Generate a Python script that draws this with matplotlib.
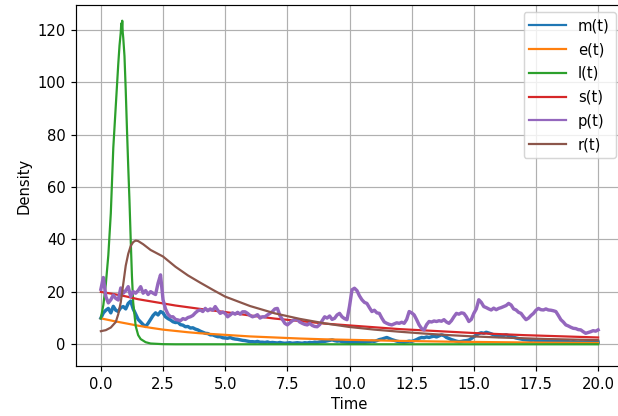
"""
Density of the six compartments m, e, l, s, p, r over time (0-20).
Values read off the reference picture.
"""
import numpy as np
import matplotlib
matplotlib.use("Agg")
import matplotlib.pyplot as plt

DPI = 106

# noisy series on a 0.1 grid, t = 0.0 .. 20.0
t_grid = np.linspace(0.0, 20.0, 201)

m_vals = [
    10.0, 12.0, 13.0, 13.7, 12.0, 14.5, 13.0, 12.5, 14.0, 14.4,
    13.5, 15.6, 16.5, 13.5, 11.5, 9.5, 8.5, 7.5, 6.8, 8.0,
    9.5, 11.0, 12.0, 11.2, 12.5, 12.0, 10.5, 9.8, 9.3, 8.6,
    8.3, 8.4, 7.5, 7.3, 6.7, 6.8, 6.2, 6.3, 5.8, 5.5,
    5.0, 4.6, 4.2, 4.1, 3.6, 3.6, 3.2, 2.9, 2.9, 2.5,
    2.4, 2.3, 2.6, 2.2, 2.0, 1.9, 1.7, 1.5, 1.4, 1.2,
    1.0,
    1.0, 0.9, 1.1, 0.8, 0.8, 0.7, 0.9, 0.6, 0.7, 0.6,
    0.5, 0.7, 0.5, 0.4, 0.5, 0.6, 0.4, 0.5, 0.6, 0.5,
    0.4, 0.6, 0.5, 0.7, 0.6, 0.8, 0.7, 0.9, 1.0, 1.1,
    1.3, 1.5, 1.7, 1.4, 1.2, 1.3, 1.0, 0.9, 0.8, 0.7,
    0.8, 0.6, 0.7, 0.6, 0.8, 0.7, 0.9, 1.0, 1.2, 1.1,
    1.4, 1.8, 2.0, 2.3, 2.6, 2.2, 1.8, 1.5, 1.2, 1.0,
    0.9, 0.8, 1.0, 1.2, 1.1, 1.4, 1.8, 2.3, 2.6, 2.5,
    2.8, 2.6, 2.9, 3.1, 2.8, 3.2, 3.6, 3.3, 2.6, 2.2,
    1.8, 1.5, 1.2, 1.0, 1.1, 1.3, 1.4, 1.6, 2.2, 2.9,
    3.5, 4.1, 4.4, 4.2, 4.6, 4.3, 4.0, 3.6, 3.2, 3.0,
    3.2, 3.4, 3.6, 3.3, 3.0, 2.7, 2.4, 2.2, 2.0, 1.8,
    1.7, 1.6, 1.5, 1.6, 1.4, 1.3, 1.2, 1.3, 1.2, 1.1,
    1.2, 1.3, 1.4, 1.2, 1.1, 1.0, 1.1, 1.0, 0.9, 1.0,
    0.9, 0.8, 0.9, 0.8, 0.9, 0.8, 0.7, 0.8, 0.7, 0.8,
]

p_vals = [
    21.0, 25.5, 18.2, 15.8, 17.0, 18.8, 17.5, 16.9, 21.5, 19.5,
    20.5, 22.0, 18.2, 20.1, 19.5, 20.5, 22.0, 19.5, 20.5, 19.0,
    20.1, 19.5, 19.0, 23.3, 26.5, 17.0, 13.5, 11.5, 10.5, 10.5,
    9.5, 9.3, 9.0, 9.8, 9.5, 10.2, 10.5, 11.0, 12.0, 12.8,
    13.1, 12.5, 13.7, 12.8, 13.5, 13.0, 14.4, 13.0, 11.8, 12.3,
    11.8, 10.5, 11.2, 12.0, 11.5, 12.2, 11.5, 12.4, 12.4, 11.8,
    11.0, 10.5, 10.8, 11.3, 10.0, 10.5, 10.5, 11.2, 11.8, 12.5,
    13.5, 13.7, 11.0, 9.5, 8.0, 7.4, 8.2, 9.0, 9.4, 9.4,
    8.5, 8.0, 7.6, 7.4, 8.0, 7.2, 6.8, 6.7, 7.5, 9.0,
    10.5, 10.0, 10.8, 9.5, 9.9, 11.2, 11.8, 10.5, 9.8, 9.4,
    14.5, 20.8, 21.4, 20.5, 18.5, 17.0, 16.0, 15.6, 14.0, 12.5,
    13.0, 12.0, 11.8, 10.0, 8.5, 8.0, 7.6, 7.4, 7.8, 8.2,
    8.0, 8.4, 8.0, 9.5, 12.5, 12.0, 11.2, 9.4, 7.4, 6.0,
    5.5, 7.5, 8.7, 8.5, 8.9, 8.7, 9.0, 8.8, 9.4, 8.5,
    8.0, 9.0, 10.5, 11.8, 11.5, 12.0, 11.8, 10.5, 8.7, 9.5,
    11.8, 13.5, 17.0, 16.0, 14.4, 14.0, 13.5, 13.1, 13.8, 13.2,
    13.7, 14.0, 14.4, 14.8, 15.6, 15.0, 13.5, 13.1, 12.2, 11.8,
    10.5, 9.4, 10.0, 11.0, 11.8, 13.0, 13.7, 13.2, 13.1, 13.5,
    13.1, 13.0, 12.8, 12.5, 11.0, 9.4, 8.5, 7.4, 7.0, 6.5,
    6.1, 6.0, 5.6, 5.5, 4.8, 4.2, 4.5, 4.8, 5.2, 5.0,
    5.5,
]

# smooth series at their own sample times
t_e = [0, 0.5, 1, 1.5, 2, 2.5, 3, 3.5, 4, 5, 6, 7, 8, 9, 10,
       12, 14, 16, 18, 20]
e_vals = [9.9, 8.9, 8.0, 7.1, 6.3, 5.6, 5.1, 4.6, 4.2, 3.6, 3.0, 2.6, 2.2,
          1.9, 1.7, 1.3, 1.0, 0.8, 0.6, 0.5]

t_l = [0, 0.1, 0.2, 0.3, 0.4, 0.5, 0.6, 0.7, 0.75, 0.8, 0.82, 0.84, 0.86,
       0.88, 0.9, 0.95, 1.0, 1.05, 1.1, 1.15, 1.2, 1.25, 1.3, 1.4, 1.5,
       1.6, 1.8, 2.0, 2.5, 3, 5, 10, 15, 20]
l_vals = [9.9, 15, 23, 34, 50, 75, 91, 107, 114, 119, 122.5, 120, 123.5,
          119, 117, 110, 97, 82, 68, 55, 40, 26, 16, 7, 3.5,
          2.0, 0.8, 0.3, 0.05, 0, 0, 0, 0, 0]

t_s = [0, 0.5, 1, 1.5, 2, 2.5, 3, 4, 5, 6, 7, 8, 9, 10, 11, 12, 13, 14,
       15, 16, 17, 18, 19, 20]
s_vals = [20.0, 19.2, 18.3, 17.2, 16.4, 15.6, 14.8, 13.5, 12.3, 11.0, 9.8,
          8.9, 7.9, 7.2, 6.5, 5.8, 5.3, 4.8, 4.3, 3.9, 3.5, 3.2, 2.9, 2.6]

t_r = [0, 0.2, 0.4, 0.6, 0.7, 0.8, 0.9, 1.0, 1.1, 1.2, 1.3, 1.4, 1.5, 1.7,
       2.0, 2.5, 3.0, 3.5, 4.0, 4.5, 5, 6, 7, 8, 9, 10, 11, 12, 13, 14,
       15, 16, 17, 18, 19, 20]
r_vals = [5.0, 5.4, 6.4, 8.5, 11.5, 16.0, 23.0, 30.0, 34.5, 37.5, 39.0,
          39.6, 39.4, 38.2, 36.0, 33.5, 29.6, 26.3, 23.5, 20.8, 18.2, 14.6,
          11.8, 9.7, 8.0, 6.6, 5.6, 4.8, 4.1, 3.5, 3.0, 2.6, 2.3, 2.0, 1.8,
          1.6]


def draw(ax):
    # noisy traces look like a thick band in the reference
    ax.plot(t_grid, m_vals, lw=2.3, label="m(t)")
    ax.plot(t_e, e_vals, label="e(t)")
    ax.plot(t_l, l_vals, label="l(t)")
    ax.plot(t_s, s_vals, label="s(t)")
    ax.plot(t_grid, p_vals, lw=2.3, label="p(t)")
    ax.plot(t_r, r_vals, label="r(t)")
    ax.set_xlim(-1, 21)
    ax.set_ylim(-8.4, 129.5)
    ax.set_xlabel("Time")
    ax.set_ylabel("Density")
    ax.grid(True)
    leg = ax.legend(loc="upper right", handlelength=2.5, labelspacing=0.6)
    for h in leg.legend_handles:
        h.set_linewidth(1.5)


def main():
    assert len(m_vals) == len(t_grid) and len(p_vals) == len(t_grid)
    fig = plt.figure(figsize=(618 / DPI, 416 / DPI), dpi=DPI)
    # the reference is cropped on the right: the axes run past the edge
    ax = fig.add_axes([76 / 618, 49.7 / 416, 547 / 618, 361.3 / 416])
    draw(ax)
    fig.savefig("out.png", dpi=DPI)
    plt.close(fig)


if __name__ == "__main__":
    main()
